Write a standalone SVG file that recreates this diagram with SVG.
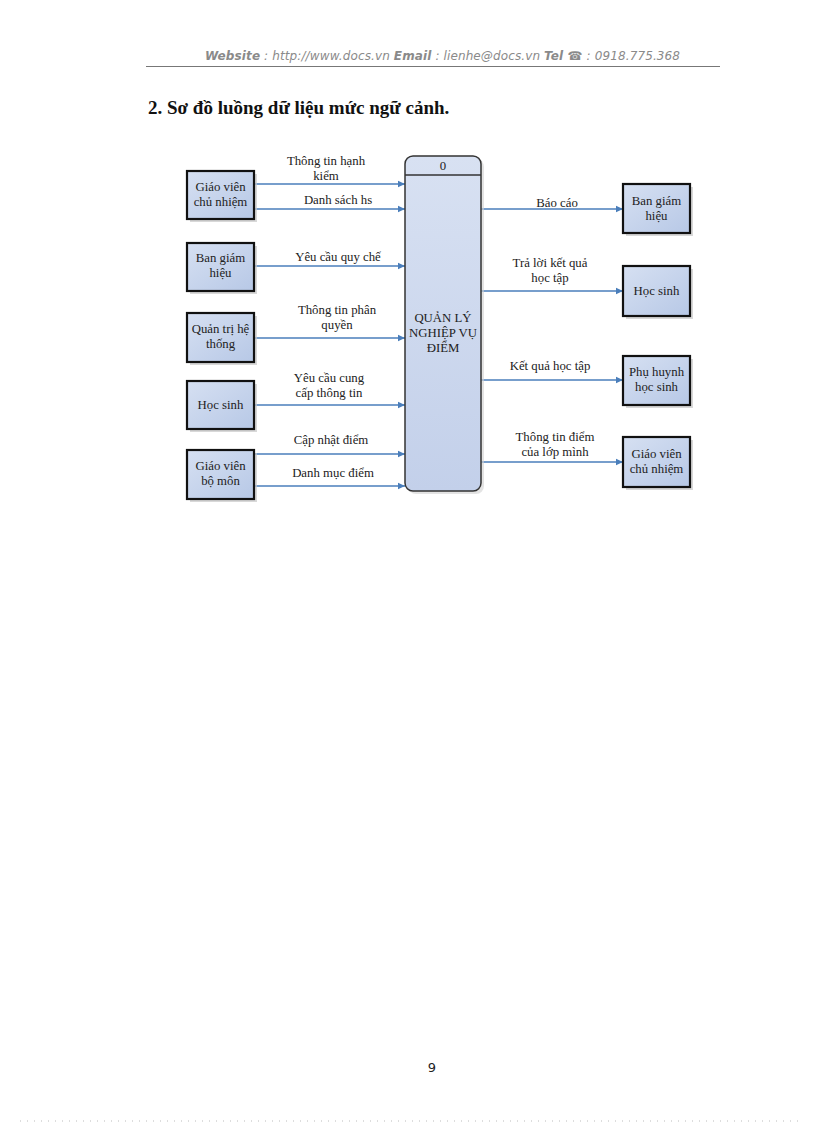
<svg xmlns="http://www.w3.org/2000/svg" width="816" height="1123" viewBox="0 0 816 1123">
<style>
.hdr{font-family:"DejaVu Sans",sans-serif;font-style:italic;font-size:12px;fill:#8a8a8a}
.b{font-weight:bold}
.t{font-family:"Liberation Serif",serif;font-size:12.8px;fill:#222;text-anchor:middle}
.ent{fill:url(#g);stroke:#111;stroke-width:2.2}
.sh{fill:#c8c8c8;opacity:0.7}
.ar{stroke:#4a7ebb;stroke-width:1.3;fill:none;marker-end:url(#ah)}
</style>
<defs>
<linearGradient id="g" x1="0" y1="0" x2="1" y2="1">
<stop offset="0" stop-color="#d6e0f2"/>
<stop offset="1" stop-color="#b7c8e6"/>
</linearGradient>
<linearGradient id="g2" x1="0" y1="0" x2="0" y2="1">
<stop offset="0" stop-color="#d8e1f2"/>
<stop offset="1" stop-color="#c3d0ea"/>
</linearGradient>
<marker id="ah" markerWidth="8" markerHeight="8" refX="7" refY="4" orient="auto" markerUnits="userSpaceOnUse">
<path d="M0,0.8 L7,4 L0,7.2 Z" fill="#4a7ebb"/>
</marker>
</defs>
<rect width="816" height="1123" fill="#fff"/>
<g id="header">
<text x="205" y="60" class="hdr" textLength="475" lengthAdjust="spacing"><tspan class="b">Website</tspan> : http://www.docs.vn  <tspan class="b">Email</tspan>  : lienhe@docs.vn   <tspan class="b">Tel ☎</tspan> : 0918.775.368</text>
<line x1="146" y1="66.5" x2="720" y2="66.5" stroke="#777" stroke-width="1"/>
</g>
<text x="148" y="114" font-family="Liberation Serif,serif" font-weight="bold" font-size="19" fill="#111">2. Sơ đồ luồng dữ liệu mức ngữ cảnh.</text>

<g id="connectors">
<line x1="254" y1="184" x2="405" y2="184" class="ar"/>
<line x1="254" y1="209" x2="405" y2="209" class="ar"/>
<line x1="254" y1="266" x2="405" y2="266" class="ar"/>
<line x1="254" y1="338" x2="405" y2="338" class="ar"/>
<line x1="254" y1="405" x2="405" y2="405" class="ar"/>
<line x1="254" y1="454" x2="405" y2="454" class="ar"/>
<line x1="254" y1="486" x2="405" y2="486" class="ar"/>
<line x1="481" y1="209" x2="623" y2="209" class="ar"/>
<line x1="481" y1="291" x2="623" y2="291" class="ar"/>
<line x1="481" y1="380" x2="623" y2="380" class="ar"/>
<line x1="481" y1="462" x2="623" y2="462" class="ar"/>
<text x="326" y="165" class="t">Thông tin hạnh</text>
<text x="326" y="180" class="t">kiểm</text>
<text x="338" y="204" class="t">Danh sách hs</text>
<text x="338" y="261" class="t">Yêu cầu quy chế</text>
<text x="337" y="314" class="t">Thông tin phân</text>
<text x="337" y="329" class="t">quyền</text>
<text x="329" y="382" class="t">Yêu cầu cung</text>
<text x="329" y="397" class="t">cấp thông tin</text>
<text x="331" y="444" class="t">Cập nhật điểm</text>
<text x="333" y="477" class="t">Danh mục điểm</text>
<text x="557" y="207" class="t">Báo cáo</text>
<text x="550" y="267" class="t">Trả lời kết quả</text>
<text x="550" y="282" class="t">học tập</text>
<text x="550" y="370" class="t">Kết quả học tập</text>
<text x="555" y="441" class="t">Thông tin điểm</text>
<text x="555" y="456" class="t">của lớp mình</text>
</g>

<g id="process">
<rect x="408" y="159" width="76" height="335" rx="8" fill="#d0d0d0" opacity="0.6"/>
<rect x="405" y="156" width="76" height="335" rx="8" fill="url(#g2)" stroke="#333" stroke-width="1.5"/>
<line x1="405" y1="175" x2="481" y2="175" stroke="#333" stroke-width="1.5"/>
<text x="443" y="170" class="t">0</text>
<text x="443" y="322" class="t">QUẢN LÝ</text>
<text x="443" y="337" class="t">NGHIỆP VỤ</text>
<text x="443" y="352" class="t">ĐIỂM</text>
</g>

<g id="gvcn-left">
<rect x="190" y="174" width="67" height="48" class="sh"/>
<rect x="187" y="171" width="67" height="48" class="ent"/>
<text x="220.5" y="191" class="t">Giáo viên</text>
<text x="220.5" y="206" class="t">chủ nhiệm</text>
</g>
<g id="bgh-left">
<rect x="190" y="246" width="67" height="48" class="sh"/>
<rect x="187" y="243" width="67" height="48" class="ent"/>
<text x="220.5" y="262" class="t">Ban giám</text>
<text x="220.5" y="277" class="t">hiệu</text>
</g>
<g id="qtht">
<rect x="190" y="316" width="67" height="49" class="sh"/>
<rect x="187" y="313" width="67" height="49" class="ent"/>
<text x="220.5" y="333" class="t">Quản trị hệ</text>
<text x="220.5" y="348" class="t">thống</text>
</g>
<g id="hs-left">
<rect x="190" y="384" width="67" height="48" class="sh"/>
<rect x="187" y="381" width="67" height="48" class="ent"/>
<text x="220.5" y="409" class="t">Học sinh</text>
</g>
<g id="gvbm">
<rect x="190" y="453" width="67" height="49" class="sh"/>
<rect x="187" y="450" width="67" height="49" class="ent"/>
<text x="220.5" y="470" class="t">Giáo viên</text>
<text x="220.5" y="485" class="t">bộ môn</text>
</g>

<g id="bgh-right">
<rect x="626" y="187" width="67" height="49" class="sh"/>
<rect x="623" y="184" width="67" height="49" class="ent"/>
<text x="656.5" y="205" class="t">Ban giám</text>
<text x="656.5" y="220" class="t">hiệu</text>
</g>
<g id="hs-right">
<rect x="626" y="269" width="67" height="50" class="sh"/>
<rect x="623" y="266" width="67" height="50" class="ent"/>
<text x="656.5" y="295" class="t">Học sinh</text>
</g>
<g id="phhs">
<rect x="626" y="359" width="67" height="49" class="sh"/>
<rect x="623" y="356" width="67" height="49" class="ent"/>
<text x="656.5" y="376" class="t">Phụ huynh</text>
<text x="656.5" y="391" class="t">học sinh</text>
</g>
<g id="gvcn-right">
<rect x="626" y="440" width="67" height="50" class="sh"/>
<rect x="623" y="437" width="67" height="50" class="ent"/>
<text x="656.5" y="458" class="t">Giáo viên</text>
<text x="656.5" y="473" class="t">chủ nhiệm</text>
</g>

<text x="432" y="1072" font-family="DejaVu Sans,sans-serif" font-size="13" fill="#222" text-anchor="middle">9</text>
<line x1="20" y1="1121" x2="800" y2="1121" stroke="#bbb" stroke-width="1" stroke-dasharray="1,6"/>
</svg>
